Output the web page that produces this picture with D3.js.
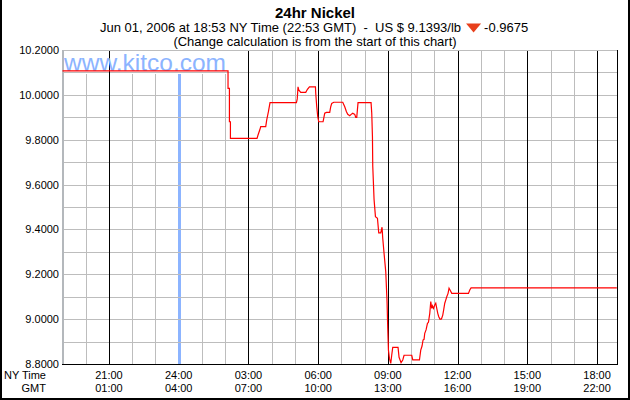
<!DOCTYPE html>
<html><head><meta charset="utf-8">
<script src="https://cdn.jsdelivr.net/npm/d3@7"></script>
<style>
html,body{margin:0;padding:0;background:#fff;}
svg{display:block;font-family:"Liberation Sans",Arial,sans-serif;}
</style></head>
<body>
<svg id="c" width="630" height="400"></svg>
<script>
// hours since 19:00 NY time (May 31, 2006)
const times = [
  0, 7.122, 7.122, 7.182, 7.182, 7.225, 7.225, 8.370, 8.413, 8.486,
  8.529, 8.744, 8.787, 8.860, 8.929, 10.065, 10.100, 10.134, 10.164, 10.250,
  10.466, 10.539, 10.625, 10.883, 10.896, 10.939, 10.982, 11.025, 11.210, 11.240,
  11.283, 11.356, 11.498, 11.541, 11.584, 11.671, 12.058, 12.144, 12.217, 12.273,
  12.359, 12.445, 12.488, 12.574, 12.617, 12.660, 12.716, 13.276, 13.306, 13.336,
  13.349, 13.405, 13.465, 13.551, 13.607, 13.693, 13.749, 13.779, 13.835, 13.908,
  13.964, 13.994, 14.024, 14.067, 14.123, 14.166, 14.209, 14.437, 14.481, 14.567,
  14.640, 14.696, 15.027, 15.070, 15.358, 15.414, 15.470, 15.513, 15.556, 15.586,
  15.642, 15.703, 15.746, 15.802, 15.845, 15.888, 15.918, 15.961, 16.017, 16.060,
  16.103, 16.146, 16.189, 16.245, 16.305, 16.361, 16.404, 16.447, 16.490, 16.533,
  16.589, 16.632, 16.692, 16.749, 17.467, 17.523, 17.579, 23.85
];
const prices = [
  10.1068, 10.1068, 10.029, 10.029, 9.880, 9.880, 9.806, 9.806, 9.821, 9.843,
  9.858, 9.858, 9.888, 9.925, 9.965, 9.965, 9.982, 10.036, 10.022, 10.011,
  10.011, 10.025, 10.036, 10.036, 10.007, 9.947, 9.903, 9.880, 9.880, 9.895,
  9.918, 9.922, 9.922, 9.947, 9.962, 9.967, 9.967, 9.947, 9.925, 9.913,
  9.907, 9.915, 9.918, 9.913, 9.900, 9.900, 9.965, 9.965, 9.918, 9.813,
  9.683, 9.534, 9.457, 9.450, 9.385, 9.385, 9.410, 9.360, 9.294, 9.212,
  9.078, 8.959, 8.862, 8.825, 8.803, 8.840, 8.874, 8.874, 8.830, 8.806,
  8.818, 8.839, 8.839, 8.818, 8.818, 8.862, 8.880, 8.907, 8.910, 8.937,
  8.952, 8.981, 8.986, 9.026, 9.078, 9.048, 9.059, 9.048, 9.063, 9.071,
  9.048, 9.026, 9.011, 8.999, 9.001, 9.018, 9.044, 9.071, 9.085, 9.100,
  9.115, 9.138, 9.127, 9.115, 9.115, 9.130, 9.1393, 9.1393
];
const yTickValues = [10.2, 10.0, 9.8, 9.6, 9.4, 9.2, 9.0, 8.8];
const yGridValues = [10.1, 10.0, 9.9, 9.8, 9.7, 9.6, 9.5, 9.4, 9.3, 9.2, 9.1, 9.0, 8.9];
const majorHours = [2, 5, 8, 11, 14, 17, 20, 23];
const nyLabels = ["21:00", "24:00", "03:00", "06:00", "09:00", "12:00", "15:00", "18:00"];
const gmtLabels = ["01:00", "04:00", "07:00", "10:00", "13:00", "16:00", "19:00", "22:00"];
const minorHours = [1,3,4,6,7,9,10,12,13,15,16,18,19,21,22];
const midnightHour = 5;
const domainEnd = 23.85;
const titleText = "24hr Nickel";
const subText = "Jun 01, 2006 at 18:53 NY Time (22:53 GMT)  -  US $ 9.1393/lb";
const changeText = "-0.9675";
const noteText = "(Change calculation is from the start of this chart)";
const watermark = "www.kitco.com";

const svg = d3.select("#c");
const x = d3.scaleLinear().domain([0, 24]).range([62.5, 620.3]);
const y = d3.scaleLinear().domain([8.8, 10.2]).range([364, 50]);
const L = 62, R = Math.round(x(domainEnd)), T = Math.round(y(10.2)), B = Math.round(y(8.8));
const px = v => Math.round(v) + 0.5;
const GRID = "#bdbdbd";
const BLUE = "#8cb4ff";

// outer frame (left, right, bottom)
svg.append("path").attr("d", `M1,0V399H629V0`).attr("fill","none").attr("stroke","#000").attr("stroke-width",2);

const g = svg.append("g").attr("shape-rendering","crispEdges");

// minor vertical gridlines
g.selectAll(".vmin").data(minorHours).join("line")
  .attr("x1", d => px(x(d))).attr("x2", d => px(x(d)))
  .attr("y1", T).attr("y2", B).attr("stroke", GRID);

// blue midnight line
g.append("line").attr("x1", Math.round(x(midnightHour))+0.5).attr("x2", Math.round(x(midnightHour))+0.5)
  .attr("y1", T).attr("y2", B).attr("stroke", BLUE).attr("stroke-width", 3);

// watermark background box
g.append("rect").attr("x", L+1).attr("y", T+1).attr("width", x(7.122)-L-1).attr("height", 23).attr("fill","#fff");

// horizontal gridlines
g.selectAll(".hg").data(yGridValues).join("line")
  .attr("x1", L).attr("x2", R).attr("y1", d => px(y(d))).attr("y2", d => px(y(d))).attr("stroke", GRID);

// watermark
svg.append("text").attr("x", 64).attr("y", 71).attr("font-size", 24.5).attr("fill", BLUE).text(watermark);

// major vertical lines
g.selectAll(".vmaj").data(majorHours.filter(d => d !== midnightHour)).join("line")
  .attr("x1", d => px(x(d))).attr("x2", d => px(x(d)))
  .attr("y1", T).attr("y2", B).attr("stroke", "#000");

// top border gray, left gray axis, right black edge, bottom black axis
g.append("line").attr("x1", L).attr("x2", R).attr("y1", T+0.5).attr("y2", T+0.5).attr("stroke", GRID);
g.append("line").attr("x1", L+0.5).attr("x2", L+0.5).attr("y1", T).attr("y2", B).attr("stroke", "#b4b8bc").attr("stroke-width", 2);
g.append("line").attr("x1", R+0.5).attr("x2", R+0.5).attr("y1", T).attr("y2", B+1).attr("stroke", "#000");
g.append("line").attr("x1", L).attr("x2", R+1).attr("y1", B+0.5).attr("y2", B+0.5).attr("stroke", "#000");

// price line
const line = d3.line().x((d,i) => x(times[i])).y(d => y(d));
svg.append("path").datum(prices).attr("d", line).attr("fill","none")
  .attr("stroke", "#ff0000").attr("stroke-width", 1.2).attr("stroke-linejoin","miter");

// y labels
svg.selectAll(".yl").data(yTickValues).join("text")
  .attr("x", 59).attr("y", d => y(d) + 4).attr("text-anchor","end")
  .attr("font-size", 11).attr("fill","#000").text(d => d3.format(".4f")(d));

// x labels
svg.append("text").attr("x", 46).attr("y", 379).attr("text-anchor","end").attr("font-size", 11).text("NY Time");
svg.append("text").attr("x", 46).attr("y", 392).attr("text-anchor","end").attr("font-size", 11).text("GMT");
svg.selectAll(".xn").data(majorHours).join("text")
  .attr("x", d => x(d)).attr("y", 379).attr("text-anchor","middle").attr("font-size", 11)
  .text((d,i) => nyLabels[i]);
svg.selectAll(".xg").data(majorHours).join("text")
  .attr("x", d => x(d)).attr("y", 392).attr("text-anchor","middle").attr("font-size", 11)
  .text((d,i) => gmtLabels[i]);

// titles
svg.append("text").attr("x", 315).attr("y", 18).attr("text-anchor","middle")
  .attr("font-size", 15).attr("font-weight","bold").text(titleText);
const sub = svg.append("g");
const t1 = sub.append("text").attr("x", 0).attr("y", 32).attr("font-size", 13).attr("xml:space","preserve").style("white-space","pre").text(subText);
const w1 = t1.node().getComputedTextLength();
const tri = sub.append("path").attr("d", `M${w1+5},23.5h15l-7.5,9z`).attr("fill", "#e8401c");
const t2 = sub.append("text").attr("x", w1+23).attr("y", 32).attr("font-size", 13).text(changeText);
const wTot = w1 + 23 + t2.node().getComputedTextLength();
sub.attr("transform", `translate(${Math.round(314 - wTot/2)},0)`);
svg.append("text").attr("x", 315).attr("y", 46).attr("text-anchor","middle").attr("font-size", 13).text(noteText);
</script>
</body></html>
